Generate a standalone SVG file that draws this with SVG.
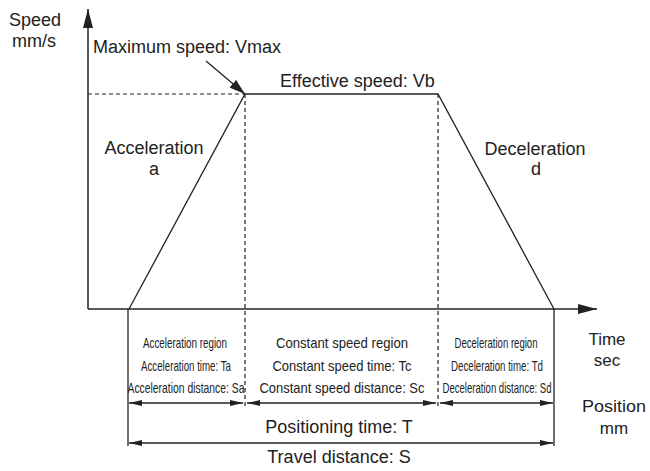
<svg xmlns="http://www.w3.org/2000/svg" width="650" height="471" viewBox="0 0 650 471">
<style>
  .t { font-family: "Liberation Sans", Arial, sans-serif; font-size: 18px; fill: #222; }
  .r { font-size: 15px; }
  .u { font-size: 17px; }
  .c { text-anchor: middle; }
  .ln { stroke: #222; stroke-width: 1.3; fill: none; }
  .ax { stroke: #222; stroke-width: 1.5; fill: none; }
  .ds { stroke: #222; stroke-width: 1.2; fill: none; stroke-dasharray: 4 3; }
</style>
<defs>
  <marker id="axh" viewBox="0 0 19 10" refX="19" refY="5" markerWidth="19" markerHeight="10" markerUnits="userSpaceOnUse" orient="auto">
    <path d="M0,0 L19,5 L0,10 z" fill="#222"/>
  </marker>
  <marker id="dh" viewBox="0 0 13 6" refX="13" refY="3" markerWidth="13" markerHeight="6" markerUnits="userSpaceOnUse" orient="auto-start-reverse">
    <path d="M0,0 L13,3 L0,6 z" fill="#222"/>
  </marker>
  <marker id="ph" viewBox="0 0 16 10" refX="16" refY="5" markerWidth="16" markerHeight="10" markerUnits="userSpaceOnUse" orient="auto">
    <path d="M0,0 L16,5 L0,10 z" fill="#222"/>
  </marker>
</defs>

<g id="axes">
  <line class="ax" x1="88" y1="309" x2="88" y2="9" marker-end="url(#axh)"/>
  <line class="ax" x1="88" y1="309" x2="597" y2="309" marker-end="url(#axh)"/>
</g>

<g id="profile">
  <polyline class="ln" points="129,309 245,94 438,94 554,309"/>
</g>

<g id="guides">
  <line class="ds" x1="88" y1="94" x2="245" y2="94"/>
  <line class="ds" x1="245" y1="94" x2="245" y2="409"/>
  <line class="ds" x1="438" y1="94" x2="438" y2="409"/>
  <line class="ln" x1="128" y1="309" x2="128" y2="446"/>
  <line class="ln" x1="554" y1="309" x2="554" y2="446"/>
</g>

<g id="connectors">
  <line class="ln" x1="206" y1="61" x2="245" y2="94" marker-end="url(#ph)"/>
  <line class="ln" x1="129" y1="403" x2="243" y2="403" marker-start="url(#dh)" marker-end="url(#dh)"/>
  <line class="ln" x1="247" y1="403" x2="436" y2="403" marker-start="url(#dh)" marker-end="url(#dh)"/>
  <line class="ln" x1="440" y1="403" x2="553" y2="403" marker-start="url(#dh)" marker-end="url(#dh)"/>
  <line class="ln" x1="129" y1="443" x2="553" y2="443" marker-start="url(#dh)" marker-end="url(#dh)"/>
</g>

<g id="axis-labels">
  <text class="t c" x="35" y="26">Speed</text>
  <text class="t c" x="34" y="47">mm/s</text>
  <text class="t u c" x="607" y="345">Time</text>
  <text class="t u c" x="607" y="366">sec</text>
  <text class="t u c" x="614" y="412" textLength="64" lengthAdjust="spacingAndGlyphs">Position</text>
  <text class="t u c" x="614" y="434">mm</text>
</g>

<g id="vmax-label">
  <text class="t" x="93" y="53">Maximum speed: Vmax</text>
</g>
<g id="vb-label">
  <text class="t" x="280" y="87">Effective speed: Vb</text>
</g>
<g id="accel-label">
  <text class="t c" x="154" y="154">Acceleration</text>
  <text class="t c" x="154" y="175">a</text>
</g>
<g id="decel-label">
  <text class="t c" x="535" y="155">Deceleration</text>
  <text class="t c" x="536" y="175">d</text>
</g>

<g id="accel-region">
  <text class="t r c" x="185" y="348" textLength="84" lengthAdjust="spacingAndGlyphs">Acceleration region</text>
  <text class="t r c" x="186" y="371" textLength="90" lengthAdjust="spacingAndGlyphs">Acceleration time: Ta</text>
  <text class="t r c" x="186" y="393" textLength="117" lengthAdjust="spacingAndGlyphs">Acceleration distance: Sa</text>
</g>
<g id="const-region">
  <text class="t r c" x="342" y="348" textLength="132" lengthAdjust="spacingAndGlyphs">Constant speed region</text>
  <text class="t r c" x="342" y="371" textLength="139" lengthAdjust="spacingAndGlyphs">Constant speed time: Tc</text>
  <text class="t r c" x="342" y="393" textLength="165" lengthAdjust="spacingAndGlyphs">Constant speed distance: Sc</text>
</g>
<g id="decel-region">
  <text class="t r c" x="496" y="348" textLength="83" lengthAdjust="spacingAndGlyphs">Deceleration region</text>
  <text class="t r c" x="497" y="371" textLength="92" lengthAdjust="spacingAndGlyphs">Deceleration time: Td</text>
  <text class="t r c" x="497" y="393" textLength="109" lengthAdjust="spacingAndGlyphs">Deceleration distance: Sd</text>
</g>

<g id="totals">
  <text class="t c" x="339" y="433">Positioning time: T</text>
  <text class="t c" x="339" y="463">Travel distance: S</text>
</g>
</svg>
